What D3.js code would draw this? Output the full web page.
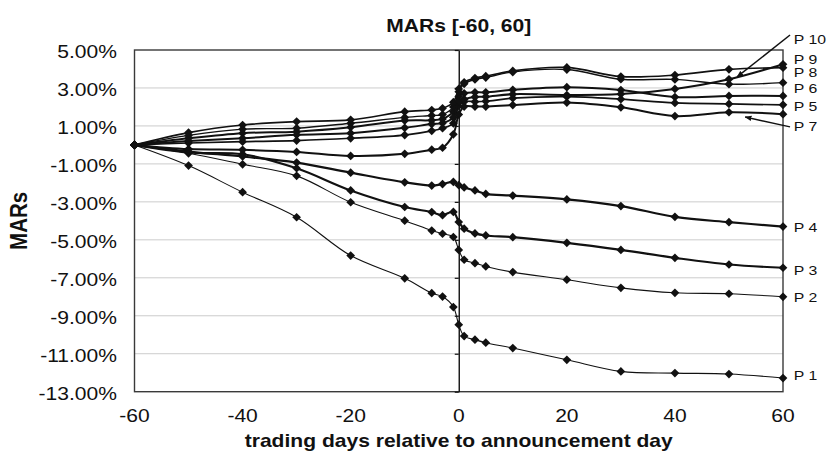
<!DOCTYPE html>
<html><head><meta charset="utf-8">
<script src="https://cdn.jsdelivr.net/npm/d3@7"></script>
<style>
body{margin:0;background:#fff}
svg{display:block}
text{font-family:Arial,"Liberation Sans",Helvetica,sans-serif;fill:#111}
</style>
</head><body>
<svg id="c" width="828" height="456"></svg>
<script>
// ---------- data ----------
const days = [-60,-50,-40,-30,-20,-10,-5,-3,-1,0,1,3,5,10,20,30,40,50,60];
const P1  = [0,-1.09,-2.49,-3.81,-5.83,-7.03,-7.81,-7.99,-8.54,-9.47,-10.07,-10.26,-10.42,-10.70,-11.32,-11.93,-12.02,-12.07,-12.28];
const P2  = [0,-0.44,-1.02,-1.63,-3.02,-3.99,-4.51,-4.68,-4.85,-5.53,-6.05,-6.23,-6.40,-6.70,-7.10,-7.53,-7.79,-7.84,-8.00];
const P3  = [0,-0.40,-0.49,-1.23,-2.40,-3.27,-3.54,-3.70,-3.53,-4.06,-4.41,-4.66,-4.77,-4.86,-5.16,-5.53,-5.95,-6.30,-6.47];
const P4  = [0,-0.35,-0.61,-0.93,-1.46,-1.97,-2.14,-2.06,-1.95,-2.12,-2.24,-2.40,-2.58,-2.67,-2.87,-3.22,-3.79,-4.07,-4.30];
const P5  = [0,0.10,0.17,0.23,0.35,0.52,0.74,0.88,1.14,2.05,2.28,2.28,2.30,2.46,2.54,2.41,2.21,2.16,2.11];
const P6  = [0,0.35,0.62,0.70,0.93,1.28,1.30,1.37,1.75,2.55,2.72,2.77,2.77,2.90,3.04,2.89,2.52,2.58,2.58];
const P7  = [0,-0.22,-0.26,-0.37,-0.58,-0.47,-0.25,-0.15,0.56,1.60,2.02,2.02,2.02,2.10,2.23,1.98,1.52,1.72,1.62];
const P8  = [0,0.50,0.83,0.88,1.14,1.45,1.55,1.60,2.00,2.80,3.22,3.45,3.55,3.84,3.97,3.46,3.45,3.20,3.28];
const P9  = [0,0.65,1.05,1.23,1.32,1.75,1.84,1.93,2.25,2.95,3.30,3.52,3.62,3.90,4.08,3.60,3.68,3.98,4.07];
const P10 = [0,0.20,0.35,0.53,0.62,0.90,1.10,1.15,1.45,2.30,2.41,2.53,2.54,2.67,2.63,2.68,2.95,3.46,4.25];

const seriesNames  = ["P 1","P 2","P 3","P 4","P 5","P 6","P 7","P 8","P 9","P 10"];
const seriesValues = [P1,P2,P3,P4,P5,P6,P7,P8,P9,P10];
const lineWidths   = [1.1,1.1,2.2,2.2,1.7,2,2,1.4,1.7,2];

// label anchors (in data units: day, MAR %)
const labelDay = 62;
const labelValues = [-12.16,-8.05,-6.58,-4.32,2.05,2.97,0.99,3.84,4.53,5.58];

// arrows (P 10, P 7): [fromDay, fromVal] -> [toDay, toVal]
const arrowSeries = ["P 10","P 7"];
const arrowFrom = [[61.3,5.79],[61.3,0.95]];
const arrowTo   = [[51.5,3.58],[53.0,1.47]];

const yTicks = [5,3,1,-1,-3,-5,-7,-9,-11,-13];
const xTicks = [-60,-40,-20,0,20,40,60];

const title = "MARs [-60, 60]";
const xTitle = "trading days relative to announcement day";
const yTitle = "MARs";

// ---------- layout ----------
const m = {l:134.5, r:783, t:50, b:391.7};
const x = d3.scaleLinear().domain([-60,60]).range([m.l,m.r]);
const y = d3.scaleLinear().domain([-13,5]).range([m.b,m.t]);
const SX = 1.17;
const INK = "#111";
const svg = d3.select("#c");

function txt(px,py,s,size,weight,anchor,dy){
  return svg.append("text")
    .attr("transform",`translate(${px},${py}) scale(${SX},1)`)
    .attr("text-anchor",anchor).attr("font-size",size)
    .attr("font-weight",weight).attr("dy",dy||0).text(s);
}
const pct = v => v.toFixed(2).replace("\u2212","-") + "%";

// gridlines
svg.append("g").selectAll("line").data(yTicks.slice(1,-1)).join("line")
  .attr("x1",m.l).attr("x2",m.r)
  .attr("y1",d=>y(d)).attr("y2",d=>y(d))
  .attr("stroke","#cccccc").attr("stroke-width",1);

// frame
svg.append("rect").attr("x",m.l).attr("y",m.t)
  .attr("width",m.r-m.l).attr("height",m.b-m.t)
  .attr("fill","none").attr("stroke","#3a3a3a").attr("stroke-width",1.4);

// value axis at day 0
const ya = svg.append("g").attr("transform",`translate(${x(0)},0)`)
  .call(d3.axisLeft(y).tickValues(yTicks).tickSize(4).tickSizeOuter(0).tickFormat(""));
ya.select(".domain").attr("stroke",INK).attr("stroke-width",1.4);
ya.selectAll(".tick line").attr("stroke",INK).attr("stroke-width",1.2);

// y tick labels
yTicks.forEach(v=>{
  txt(117, y(v)+1.5, pct(v), 18, "normal", "end", "0.35em");
});
// x tick labels
xTicks.forEach(v=>{
  txt(x(v), 422, String(v), 18, "normal", "middle");
});

// titles
txt(x(0), 32, title, 18, "bold", "middle");
txt(x(0), 447, xTitle, 18, "bold", "middle");
svg.append("text")
  .attr("transform",`translate(27,${(m.t+m.b)/2}) scale(${SX},1) rotate(-90)`)
  .attr("text-anchor","middle").attr("font-size",20.5).attr("font-weight","bold")
  .text(yTitle);

// series
const line = d3.line().x(d=>x(d[0])).y(d=>y(d[1])).curve(d3.curveCatmullRom.alpha(0.5));
const sym = d3.symbol(d3.symbolSquare, 38);
seriesValues.forEach((vals,i)=>{
  const pts = days.map((d,j)=>[d,vals[j]]);
  const g = svg.append("g");
  g.append("path").attr("d",line(pts)).attr("fill","none")
    .attr("stroke",INK).attr("stroke-width",lineWidths[i]).attr("stroke-linejoin","round");
  g.selectAll("path.mk").data(pts).join("path").attr("class","mk")
    .attr("d",sym).attr("fill",INK)
    .attr("transform",d=>`translate(${x(d[0])},${y(d[1])}) rotate(45)`);
});

// labels
seriesNames.forEach((n,i)=>{
  txt(x(labelDay), y(labelValues[i]), n, 13.5, "normal", "start", "0.35em");
});

// arrows
const defs = svg.append("defs");
defs.append("marker").attr("id","ah").attr("viewBox","0 0 10 10")
  .attr("refX",9).attr("refY",5).attr("markerWidth",7).attr("markerHeight",7)
  .attr("orient","auto").attr("markerUnits","userSpaceOnUse")
  .append("path").attr("d","M0,1 L10,5 L0,9 Z").attr("fill",INK);
arrowSeries.forEach((n,i)=>{
  svg.append("line")
    .attr("x1",x(arrowFrom[i][0])).attr("y1",y(arrowFrom[i][1]))
    .attr("x2",x(arrowTo[i][0])).attr("y2",y(arrowTo[i][1]))
    .attr("stroke",INK).attr("stroke-width",1.5).attr("marker-end","url(#ah)");
});
</script>
</body></html>
